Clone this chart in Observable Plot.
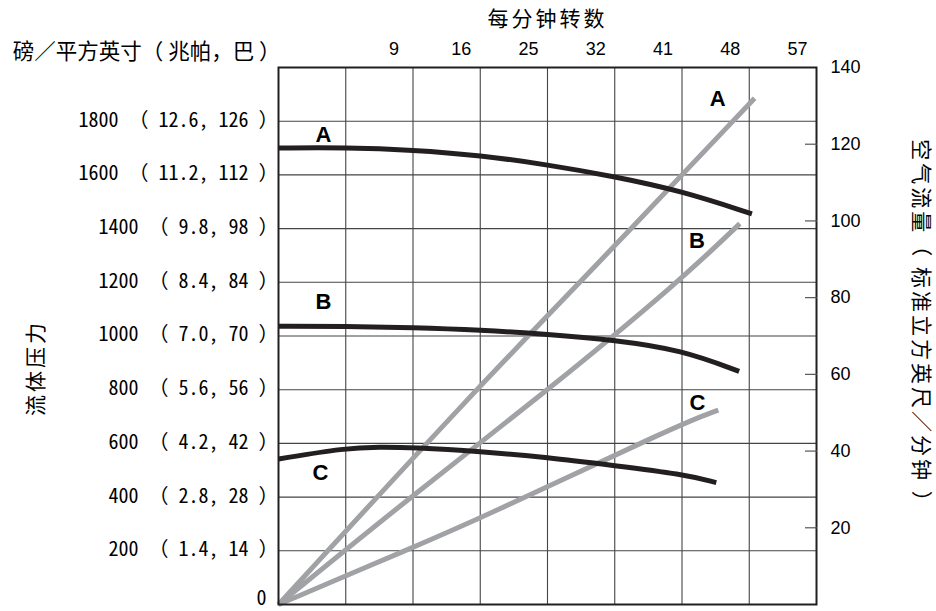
<!DOCTYPE html>
<html><head><meta charset="utf-8">
<script src="https://cdn.jsdelivr.net/npm/d3@7"></script>
<script src="https://cdn.jsdelivr.net/npm/@observablehq/plot@0.6"></script>
<style>html,body{margin:0;padding:0;background:#fff;} #chart svg{display:block;}</style>
</head><body><div id="chart"></div>
<script>
// ---- tick positions & labels ----
const rpmTickPos = [2, 3, 4, 5, 6, 7, 8];
const rpmLabels = ["9", "16", "25", "32", "41", "48", "57"];
const rpmGrid = [1, 2, 3, 4, 5, 6, 7];
const psiTicks = [200, 400, 600, 800, 1000, 1200, 1400, 1600, 1800];
const psiLabels = ["200 （ 1.4, 14 ）", "400 （ 2.8, 28 ）", "600 （ 4.2, 42 ）", "800 （ 5.6, 56 ）",
  "1000 （ 7.0, 70 ）", "1200 （ 8.4, 84 ）", "1400 （ 9.8, 98 ）", "1600 （ 11.2, 112 ）", "1800 （ 12.6, 126 ）"];
const psiGrid = [200, 400, 600, 800, 1000, 1200, 1400, 1600, 1800];
const airTicks = [20, 40, 60, 80, 100, 120, 140];
const airTickMarks = [20, 40, 60, 80, 100, 120];

// ---- series: [grid position along rpm axis, value] ----
// fluid pressure (psi), black curves
const pressureA = [[0, 1700], [1, 1702], [2, 1693], [3, 1673], [4, 1638], [5, 1594], [6, 1540], [7.04, 1455]];
const pressureB = [[0, 1036], [1, 1036], [2, 1031], [3, 1022], [4, 1007], [5, 985], [6, 948], [6.85, 868]];
const pressureC = [[0, 542], [1, 583], [1.5, 587], [2, 585], [3, 570], [4, 548], [5, 517], [6, 486], [6.51, 454]];
// air flow (scfm), grey lines
const airflowA = [[0, 0], [2.93, 56], [4.51, 84.4], [7.08, 132]];
const airflowB = [[0, 0], [1.96, 28], [4.03, 56.2], [5.97, 84.4], [6.86, 99.3]];
const airflowC = [[0, 0], [2.0, 14.9], [2.99, 22.3], [5.98, 47.1], [6.54, 50.7]];

const PSI_MAX = 2000, AIR_MAX = 140;
const air2psi = v => v * PSI_MAX / AIR_MAX;

const BLACK = "#231f20", GREY = "#a0a2a5", GRID = "#444";
const CJK = "'Noto Sans CJK SC', sans-serif";
const MONO = "'Noto Sans Mono CJK SC', 'Noto Sans CJK SC', monospace";
const SANS = "'Liberation Sans', Arial, sans-serif";

const airLine = (data) => Plot.line(data, {x: d => d[0], y: d => air2psi(d[1]), stroke: GREY, strokeWidth: 5, strokeLinecap: "butt", curve: "basis"});
const presLine = (data) => Plot.line(data, {x: d => d[0], y: d => d[1], stroke: BLACK, strokeWidth: 5, strokeLinecap: "butt", curve: "basis"});
const letter = (data, txt, dx, dy) => Plot.text(data, Plot.selectFirst({x: d => d[0], y: d => d[1], text: () => txt, dx, dy,
  fontFamily: SANS, fontWeight: "bold", fontSize: 22, fill: "#000"}));
const letterAir = (data, txt, dx, dy) => Plot.text(data, Plot.selectLast({x: d => d[0], y: d => air2psi(d[1]), text: () => txt, dx, dy,
  fontFamily: SANS, fontWeight: "bold", fontSize: 22, fill: "#000"}));

const chart = Plot.plot({
  width: 936, height: 611,
  marginLeft: 278, marginRight: 120, marginTop: 67, marginBottom: 7,
  x: {domain: [0, 8], axis: null},
  y: {domain: [0, PSI_MAX], axis: null},
  style: {background: "#fff", color: "#000", fontFamily: SANS},
  marks: [
    Plot.ruleX(rpmGrid, {stroke: GRID, strokeWidth: 1.1}),
    Plot.ruleY(psiGrid, {stroke: GRID, strokeWidth: 1.1}),
    airLine(airflowA), airLine(airflowB), airLine(airflowC),
    presLine(pressureA), presLine(pressureB), presLine(pressureC),
    letter(pressureA, "A", 45, -13),
    letter(pressureB, "B", 45, -24),
    letter(pressureC, "C", 42, 14),
    letterAir(airflowA, "A", -37, 1),
    letterAir(airflowB, "B", -43, 17),
    letterAir(airflowC, "C", -21, -7),
    Plot.frame({stroke: BLACK, strokeWidth: 2}),
    // top rpm axis
    Plot.axisX(rpmTickPos, {anchor: "top", tickSize: 0, tickPadding: 13, dx: -19,
      tickFormat: d => rpmLabels[rpmTickPos.indexOf(d)], fontSize: 18, fontFamily: SANS, fill: "#000"}),
    // left pressure axis
    Plot.axisY(psiTicks, {anchor: "left", tickSize: 0, tickPadding: 0, dy: -1,
      tickFormat: d => psiLabels[psiTicks.indexOf(d)], fontSize: 20, fontFamily: MONO, fill: "#000"}),
    Plot.axisY([0], {anchor: "left", tickSize: 0, tickPadding: 12, dy: -6,
      tickFormat: d => String(d), fontSize: 20, fontFamily: MONO, fill: "#000"}),
    // right air-flow axis
    Plot.axisY(airTickMarks.map(air2psi), {anchor: "right", tickSize: -12, tickPadding: 0,
      tickFormat: () => "", stroke: "#555", strokeWidth: 1.2}),
    Plot.axisY(airTicks.map(air2psi), {anchor: "right", tickSize: 0, tickPadding: 14,
      tickFormat: d => String(Math.round(d * AIR_MAX / PSI_MAX)), fontSize: 18, fontFamily: SANS, fill: "#000"}),
    // titles
    Plot.text(["每分钟转数"], {frameAnchor: "top", textAnchor: "middle", lineAnchor: "middle", dy: -48, fontSize: 21, fontFamily: CJK, fill: "#000"}),
    Plot.text(["磅／平方英寸（ 兆帕，巴 ）"], {frameAnchor: "top-left", textAnchor: "end", lineAnchor: "middle", dx: 2, dy: -15, fontSize: 21.5, fontFamily: CJK, fill: "#000"}),
    Plot.text(["流体压力"], {frameAnchor: "left", textAnchor: "middle", lineAnchor: "middle", rotate: -90, dx: -242, dy: 32, fontSize: 21, fontFamily: CJK, fill: "#000"}),
    Plot.text(["空气流量（ 标准立方英尺／分钟 ）"], {frameAnchor: "right", textAnchor: "middle", lineAnchor: "middle", rotate: 90, dx: 104, dy: -9, fontSize: 21, fontFamily: CJK, fill: "#000"})
  ]
});
d3.select(chart).selectAll("text").filter(function () {
  return ["每分钟转数", "流体压力", "空气流量（ 标准立方英尺／分钟 ）"].includes(this.textContent);
}).attr("letter-spacing", 3);
document.getElementById("chart").appendChild(chart);
</script>
</body></html>
